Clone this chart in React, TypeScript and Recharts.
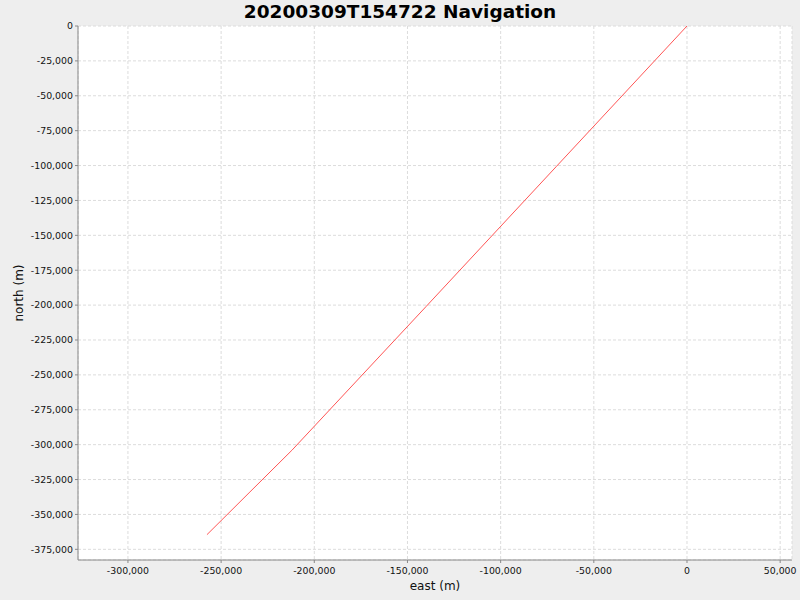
import { LineChart, Line, XAxis, YAxis, CartesianGrid, Label } from 'recharts'

const TITLE = '20200309T154722 Navigation'

// track (metres)
const EAST = [0, -70000, -140000, -212000, -235000, -257600]
const NORTH = [0, -100500, -201000, -304000, -334500, -364500]

const X_TICKS = [-300000, -250000, -200000, -150000, -100000, -50000, 0, 50000]
const Y_TICKS = [0, -25000, -50000, -75000, -100000, -125000, -150000, -175000, -200000, -225000,
  -250000, -275000, -300000, -325000, -350000, -375000]
const X_DOMAIN = [-326800, 56350]
const Y_DOMAIN = [-382650, 0]

const data = EAST.map((x, i) => ({ x, y: NORTH[i] }))

const fmt = (v: number) => v.toLocaleString('en-US')
const FONT = '"DejaVu Sans", sans-serif'
const tickStyle = { fontSize: 9.4, fill: '#111', fontFamily: FONT }

export default function App() {
  return (
    <div style={{ position: 'absolute', left: 0, top: 0, width: 800, height: 600, background: '#EEEEEE' }}>
      <div style={{
        position: 'absolute', left: 0, top: 0, width: 800, height: 24, lineHeight: '24px',
        textAlign: 'center', fontFamily: FONT, fontWeight: 'bold', fontSize: 18.5, color: '#000',
      }}>
        {TITLE}
      </div>
      <LineChart width={800} height={600} data={data} margin={{ top: 26, right: 8, bottom: 0, left: 0 }}>
        <CartesianGrid fill="#ffffff" stroke="#dcdcdc" strokeDasharray="3 2" />
        <XAxis
          type="number" dataKey="x" domain={X_DOMAIN} ticks={X_TICKS} allowDataOverflow
          tickFormatter={fmt} height={40} tickSize={3} tickMargin={4}
          stroke="#888" tick={tickStyle}
        >
          <Label value="east (m)" position="insideBottom" offset={10}
            style={{ fontSize: 12, fill: '#111', fontFamily: FONT }} />
        </XAxis>
        <XAxis xAxisId="top" orientation="top" type="number" dataKey="x" domain={X_DOMAIN}
          allowDataOverflow height={0} tick={false} tickLine={false} stroke="#aaa" />
        <YAxis
          type="number" dataKey="y" domain={Y_DOMAIN} ticks={Y_TICKS} allowDataOverflow
          tickFormatter={fmt} width={78} tickSize={3} tickMargin={2}
          stroke="#888" tick={tickStyle}
        >
          <Label
            content={({ viewBox }: any) => {
              const cy = viewBox.y + viewBox.height / 2
              const cx = 18.5
              return (
                <text x={cx} y={cy} transform={`rotate(-90 ${cx} ${cy})`} textAnchor="middle"
                  dominantBaseline="central" style={{ fontSize: 12, fill: '#111', fontFamily: FONT }}>
                  north (m)
                </text>
              )
            }}
          />
        </YAxis>
        <YAxis yAxisId="right" orientation="right" type="number" dataKey="y" domain={Y_DOMAIN}
          allowDataOverflow width={0} tick={false} tickLine={false} stroke="#aaa" />
        <Line type="linear" dataKey="y" stroke="#ff5555" strokeWidth={1} dot={false}
          isAnimationActive={false} />
      </LineChart>
    </div>
  )
}
